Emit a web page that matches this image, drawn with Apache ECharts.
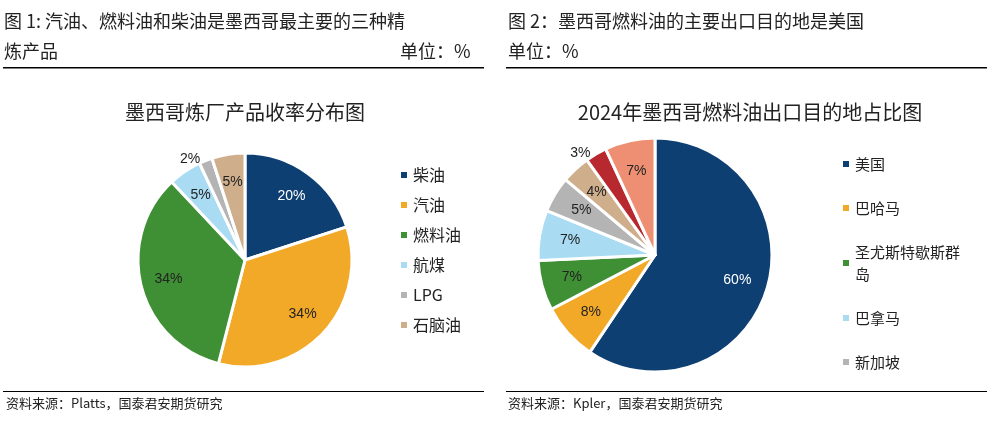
<!DOCTYPE html>
<html><head><meta charset="utf-8">
<script src="https://cdn.jsdelivr.net/npm/echarts@6/dist/echarts.min.js"></script>
<style>body{margin:0;background:#fff}#c{width:987px;height:427px}</style>
</head><body><div id="c"></div>
<script>
// 图1 炼厂产品收率
const leftNames = ['柴油', '汽油', '燃料油', '航煤', 'LPG', '石脑油']
const leftValues = [20, 34, 34, 5, 2, 5]
const leftColors = ['#0e3f73', '#f2a928', '#3f8f35', '#a9dcf3', '#b4b4b4', '#cfae8c']
// 图2 燃料油出口目的地
const rightNames = ['美国', '巴哈马', '圣尤斯特歇斯群岛', '巴拿马', '新加坡', '其他1', '其他2', '其他3']
const rightValues = [60, 8, 7, 7, 5, 4, 3, 7]
const rightColors = ['#0e3f73', '#f2a928', '#3f8f35', '#a9dcf3', '#b4b4b4', '#cfae8c', '#b8292f', '#ee8f73']
const rightLegend = ['美国', '巴哈马', '圣尤斯特歇斯群岛', '巴拿马', '新加坡']

const font = '"Noto Sans CJK SC", sans-serif'
const chart = echarts.init(document.getElementById('c'))

function pieData(names, values, colors) {
  return names.map((n, i) => ({ name: n, value: values[i], itemStyle: { color: colors[i] } }))
}
// 标签层：透明圆环，标签落在 0.7 半径处
function labelData(names, values, outside) {
  return names.map((n, i) => ({
    name: n, value: values[i],
    label: outside.includes(i) ? { position: 'outside' } : (i === 0 ? { color: '#fff' } : {})
  }))
}

function txt(x, y, s, size, align) {
  return { type: 'text', x: x, y: y, style: { text: s, fontSize: size, fontFamily: font, fill: '#222', textAlign: align || 'left' } }
}

function pieSeries(center, r, names, values, colors, outside) {
  return [{
    type: 'pie', center: center, radius: [0, r], startAngle: 90, clockwise: true, silent: true,
    itemStyle: { borderColor: '#fff', borderWidth: 3 },
    label: { show: false }, labelLine: { show: false },
    data: pieData(names, values, colors)
  }, {
    type: 'pie', center: center, radius: [r * 0.42, r], startAngle: 90, clockwise: true, silent: true,
    itemStyle: { color: 'rgba(0,0,0,0)' },
    label: { position: 'inside', formatter: '{c}%', fontSize: 14, color: '#222', fontFamily: 'Arial' },
    labelLine: { show: false, length: 1, length2: 0 },
    data: labelData(names, values, outside)
  }]
}

chart.setOption({
  animation: false,
  graphic: [
    txt(4, 12, '图 1: 汽油、燃料油和柴油是墨西哥最主要的三种精', 18),
    txt(4, 42, '炼产品', 18),
    txt(400, 42, '单位：%', 18),
    txt(508, 12, '图 2：墨西哥燃料油的主要出口目的地是美国', 18),
    txt(508, 42, '单位：%', 18),
    { type: 'rect', shape: { x: 3, y: 67, width: 481, height: 1.5 }, style: { fill: '#000' } },
    { type: 'rect', shape: { x: 506, y: 67, width: 481, height: 1.5 }, style: { fill: '#000' } },
    { type: 'rect', shape: { x: 3, y: 391, width: 481, height: 1 }, style: { fill: '#000' } },
    { type: 'rect', shape: { x: 506, y: 391, width: 481, height: 1 }, style: { fill: '#000' } },
    txt(6, 397, '资料来源：Platts，国泰君安期货研究', 13),
    txt(508, 397, '资料来源：Kpler，国泰君安期货研究', 13),
    txt(245, 102, '墨西哥炼厂产品收率分布图', 20, 'center'),
    txt(750, 102, '2024年墨西哥燃料油出口目的地占比图', 20, 'center')
  ],
  legend: [{
    data: leftNames, orient: 'vertical', left: 394, top: 162, itemGap: 14,
    itemWidth: 8, itemHeight: 8, icon: 'rect',
    textStyle: { fontSize: 16, fontFamily: font, color: '#222' }
  }, {
    data: rightLegend, orient: 'vertical', left: 836, top: 148, itemGap: 22,
    itemWidth: 8, itemHeight: 8, icon: 'rect',
    formatter: n => n === '圣尤斯特歇斯群岛' ? '圣尤斯特歇斯群\n岛' : n,
    textStyle: { fontSize: 15, fontFamily: font, color: '#222', lineHeight: 22 }
  }],
  series: [
    ...pieSeries([245, 260], 107, leftNames, leftValues, leftColors, [4]),
    ...pieSeries([655, 255], 117, rightNames, rightValues, rightColors, [6])
  ]
})
</script></body></html>
